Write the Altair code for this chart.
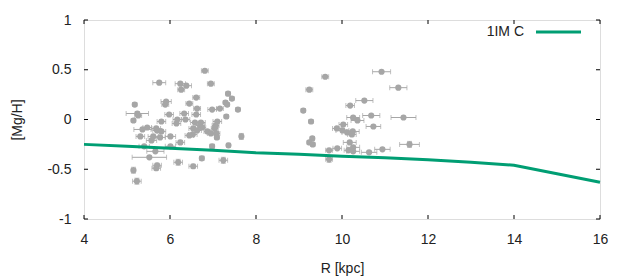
import altair as alt
import pandas as pd

# ---------------- data ----------------
R = [6.81, 5.75, 6.24, 6.38, 6.95, 6.26, 7.35, 7.44, 6.61, 7.29, 7.33, 5.18, 5.91, 5.89, 6.45,
     6.63, 6.98, 7.16, 7.58, 5.24, 5.26, 5.98, 6.33, 6.61, 7.31, 5.15, 5.80, 6.17, 6.15, 6.36,
     6.58, 6.72, 6.70, 6.75, 7.10, 7.06, 7.04, 5.47, 5.36, 5.68, 5.70, 5.80, 6.54, 6.63, 6.87,
     6.95, 7.08, 6.53, 5.31, 5.61, 5.77, 6.01, 6.45, 7.09, 7.66, 5.57, 6.24, 5.40, 6.01, 6.98,
     7.36, 5.66, 5.52, 6.19, 6.74, 7.24, 5.70, 5.68, 6.54, 5.15, 5.23,
     10.92, 9.61, 11.31, 9.24, 10.52, 10.19, 9.10, 11.43, 10.68, 10.26, 10.36, 9.28, 10.03,
     10.73, 9.88, 10.01, 10.12, 10.25, 10.23, 9.31, 9.24, 9.32, 10.18, 11.57, 10.26, 9.89,
     10.94, 9.70, 10.15, 10.26, 10.63, 9.70]
MgH = [0.49, 0.37, 0.36, 0.34, 0.36, 0.30, 0.26, 0.21, 0.22, 0.17, 0.15, 0.15, 0.18, 0.15, 0.16,
       0.11, 0.10, 0.11, 0.10, 0.06, 0.04, 0.05, 0.06, 0.05, 0.03, -0.01, -0.02, 0.00, -0.04, 0.00,
       -0.03, -0.03, -0.06, -0.08, -0.02, -0.06, -0.09, -0.08, -0.10, -0.09, -0.11, -0.12, -0.09, -0.11, -0.12,
       -0.14, -0.14, -0.15, -0.17, -0.17, -0.18, -0.17, -0.16, -0.18, -0.17, -0.21, -0.23, -0.27, -0.27, -0.27,
       -0.26, -0.32, -0.38, -0.43, -0.39, -0.41, -0.46, -0.49, -0.47, -0.51, -0.62,
       0.48, 0.43, 0.32, 0.30, 0.19, 0.14, 0.09, 0.02, 0.04, 0.02, -0.01, -0.02, -0.05,
       -0.07, -0.09, -0.11, -0.13, -0.12, -0.15, -0.19, -0.23, -0.25, -0.23, -0.25, -0.28, -0.29,
       -0.30, -0.31, -0.31, -0.32, -0.33, -0.40]
R_err = [0.08, 0.15, 0.12, 0.12, 0.08, 0.08, 0.05, 0.05, 0.08, 0.05, 0.05, 0.05, 0.12, 0.08, 0.08,
         0.08, 0.10, 0.08, 0.05, 0.26, 0.08, 0.10, 0.10, 0.10, 0.05, 0.05, 0.10, 0.10, 0.10, 0.10,
         0.10, 0.10, 0.10, 0.08, 0.10, 0.08, 0.08, 0.10, 0.20, 0.10, 0.10, 0.10, 0.10, 0.10, 0.08,
         0.08, 0.08, 0.10, 0.10, 0.12, 0.12, 0.12, 0.10, 0.05, 0.03, 0.12, 0.10, 0.12, 0.12, 0.05,
         0.03, 0.20, 0.40, 0.10, 0.05, 0.10, 0.10, 0.10, 0.10, 0.05, 0.10,
         0.21, 0.08, 0.20, 0.08, 0.20, 0.10, 0.05, 0.29, 0.20, 0.15, 0.15, 0.05, 0.10,
         0.17, 0.10, 0.15, 0.12, 0.15, 0.10, 0.05, 0.05, 0.05, 0.15, 0.23, 0.15, 0.10,
         0.18, 0.08, 0.10, 0.15, 0.18, 0.08]
MgH_err = [0.01, 0.01, 0.01, 0.01, 0.01, 0.01, 0.01, 0.01, 0.01, 0.01, 0.01, 0.01, 0.01, 0.01, 0.01,
           0.01, 0.01, 0.01, 0.01, 0.02, 0.01, 0.01, 0.01, 0.01, 0.01, 0.01, 0.01, 0.01, 0.01, 0.01,
           0.01, 0.01, 0.01, 0.01, 0.01, 0.01, 0.01, 0.01, 0.01, 0.01, 0.01, 0.01, 0.01, 0.01, 0.01,
           0.01, 0.01, 0.01, 0.01, 0.01, 0.01, 0.01, 0.01, 0.01, 0.03, 0.01, 0.02, 0.01, 0.01, 0.02,
           0.02, 0.01, 0.01, 0.03, 0.02, 0.03, 0.02, 0.02, 0.02, 0.03, 0.03,
           0.01, 0.01, 0.01, 0.01, 0.01, 0.01, 0.01, 0.01, 0.01, 0.01, 0.01, 0.01, 0.01,
           0.01, 0.01, 0.01, 0.01, 0.01, 0.02, 0.01, 0.01, 0.01, 0.01, 0.03, 0.01, 0.01,
           0.01, 0.01, 0.01, 0.01, 0.01, 0.03]

model_R = [4, 5, 6, 7, 8, 9, 10, 11, 12, 13, 14, 15, 16]
model_MgH = [-0.25, -0.27, -0.29, -0.31, -0.335, -0.35, -0.37, -0.385, -0.405, -0.43, -0.46, -0.545, -0.63]
model_name = "1IM C"

x_ticks = [4, 6, 8, 10, 12, 14, 16]
y_ticks = [-1, -0.5, 0, 0.5, 1]

# ---------------- build ----------------
df = pd.DataFrame({"R": R, "MgH": MgH, "Rerr": R_err, "Merr": MgH_err})
df["R_lo"] = df.R - df.Rerr
df["R_hi"] = df.R + df.Rerr
df["M_lo"] = df.MgH - df.Merr
df["M_hi"] = df.MgH + df.Merr
mdf = pd.DataFrame({"R": model_R, "MgH": model_MgH})

W, H = 516, 199
FONT = "Liberation Sans"
TXT = "#222222"
GRAY = "#a6a6a6"
GREEN = "#009e73"

xs = alt.Scale(domain=[4, 16], nice=False, zero=False)
ys = alt.Scale(domain=[-1, 1], nice=False, zero=False)
xaxis = alt.Axis(values=x_ticks, ticks=False, tickSize=0, domain=False, grid=False,
                 labelExpr="'' + datum.value", labelFont=FONT, labelFontSize=14, labelColor=TXT,
                 labelPadding=13, labelFlush=False, title="R [kpc]", titleFont=FONT, titleFontSize=14,
                 titleFontWeight="normal", titleColor=TXT, titleY=49, titleBaseline="middle")
yaxis = alt.Axis(values=y_ticks, ticks=False, tickSize=0, domain=False, grid=False,
                 labelExpr="'' + datum.value", labelFont=FONT, labelFontSize=14, labelColor=TXT,
                 labelPadding=13, labelFlush=False, title="[Mg/H]", titleFont=FONT, titleFontSize=14,
                 titleFontWeight="normal", titleColor=TXT, titleX=-67, titleY=H / 2,
                 titleAngle=270, titleBaseline="middle", titleAlign="center")

X = lambda f: alt.X(f, type="quantitative", scale=xs, axis=xaxis)
Y = lambda f: alt.Y(f, type="quantitative", scale=ys, axis=yaxis)

base = alt.Chart(df)
xbars = base.mark_rule(color=GRAY, strokeWidth=1).encode(x=X("R_lo"), x2="R_hi", y=Y("MgH"))
xcap_lo = base.mark_tick(color=GRAY, orient="vertical", size=5, thickness=1).encode(x=X("R_lo"), y=Y("MgH"))
xcap_hi = base.mark_tick(color=GRAY, orient="vertical", size=5, thickness=1).encode(x=X("R_hi"), y=Y("MgH"))
ybars = base.mark_rule(color=GRAY, strokeWidth=1).encode(x=X("R"), y=Y("M_lo"), y2="M_hi")
ycap_lo = base.mark_tick(color=GRAY, orient="horizontal", size=5, thickness=1).encode(x=X("R"), y=Y("M_lo"))
ycap_hi = base.mark_tick(color=GRAY, orient="horizontal", size=5, thickness=1).encode(x=X("R"), y=Y("M_hi"))
pts = base.mark_circle(color=GRAY, size=38, opacity=1).encode(x=X("R"), y=Y("MgH"))

line = alt.Chart(mdf).mark_line(color=GREEN, strokeWidth=3).encode(x=X("R"), y=Y("MgH"))

# inward (mirrored) axis ticks
xt = alt.Chart(pd.DataFrame({"t": x_ticks}))
yt = alt.Chart(pd.DataFrame({"t": y_ticks}))
tk = dict(color="black", strokeWidth=1)
xt_bot = xt.mark_rule(**tk).encode(x=X("t"), y=alt.value(H), y2=alt.value(H - 4))
xt_top = xt.mark_rule(**tk).encode(x=X("t"), y=alt.value(0), y2=alt.value(4))
yt_left = yt.mark_rule(**tk).encode(y=Y("t"), x=alt.value(0), x2=alt.value(4))
yt_right = yt.mark_rule(**tk).encode(y=Y("t"), x=alt.value(W), x2=alt.value(W - 4))

# key (gnuplot style: label left of sample line)
leg = pd.DataFrame({"name": [model_name]})
leg_text = alt.Chart(leg).mark_text(align="right", baseline="middle", font=FONT, fontSize=14,
                                    color=TXT).encode(text="name:N", x=alt.value(440), y=alt.value(12))
leg_line = alt.Chart(leg).mark_rule(color=GREEN, strokeWidth=3).encode(
    x=alt.value(452), x2=alt.value(497), y=alt.value(12))

chart = alt.layer(
    xbars, xcap_lo, xcap_hi, ybars, ycap_lo, ycap_hi, pts, line,
    xt_bot, xt_top, yt_left, yt_right, leg_text, leg_line
).properties(
    width=W, height=H,
    autosize=alt.AutoSizeParams(type="none"),
    padding={"left": 76, "top": 12, "right": 22, "bottom": 60},
).configure_view(stroke="black", strokeWidth=1).configure(background="white")

chart.save("out.html", embed_options={"renderer": "svg", "actions": False})
